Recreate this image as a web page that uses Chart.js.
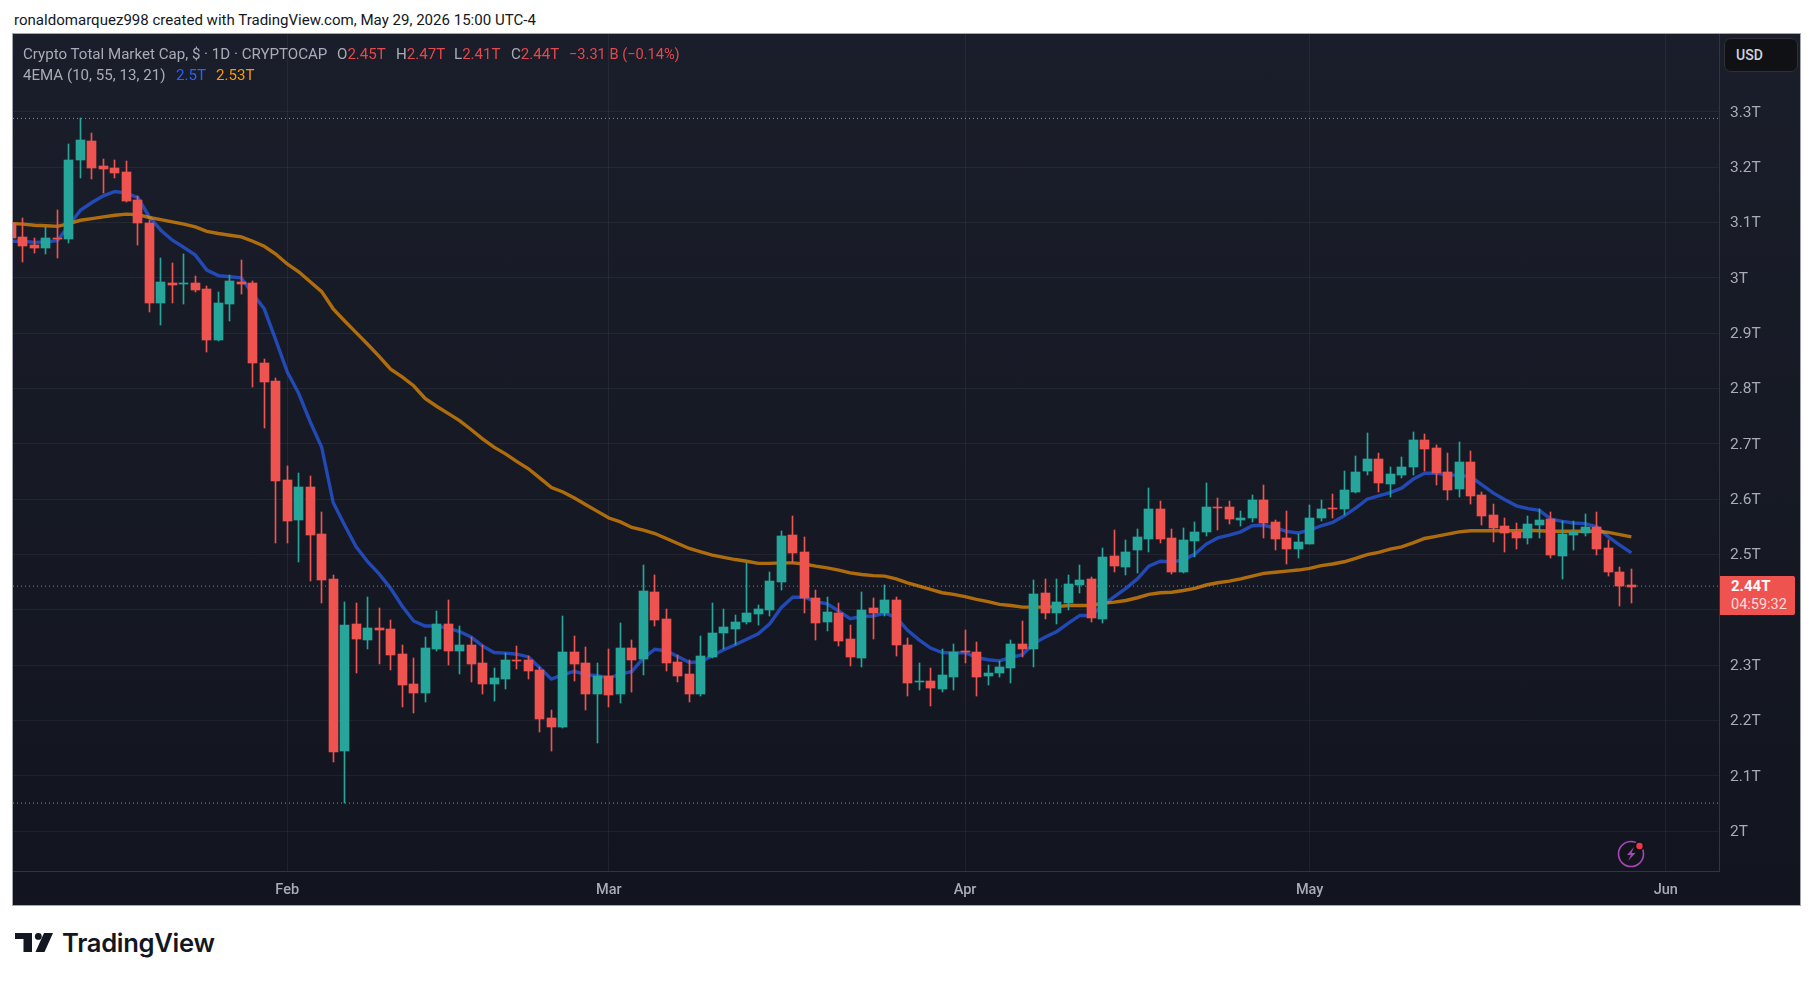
<!DOCTYPE html>
<html>
<head>
<meta charset="utf-8">
<title>Crypto Total Market Cap</title>
<script src="https://cdn.jsdelivr.net/npm/chart.js@4"></script>
<style>
  html, body { margin: 0; padding: 0; background: #fff; width: 1814px; height: 981px; overflow: hidden; }
  body { font-family: Roboto, sans-serif; position: relative; }
  #stamp { position: absolute; left: 14px; top: 11px; font-size: 15.05px; color: #131722; white-space: nowrap; }
  #panel { position: absolute; left: 13px; top: 34px; width: 1787px; height: 871px;
           background: linear-gradient(#1a1e2a, #12151f); outline: 1px solid #a4a6ab; }
  #chart { position: absolute; left: 0; top: 0; }
  .leg { position: absolute; font-size: 15.1px; color: #a9acb5; white-space: nowrap; }
  .red { color: #e5484d; }
  #usd { position: absolute; left: 1711px; top: 4px; width: 72px; height: 32px; background: #101114;
         border: 1px solid #2e3036; border-radius: 7px; color: #d1d4dc; font-size: 14px; font-weight: 500;
         line-height: 32px; text-indent: 11px; }
  #last { position: absolute; left: 1707px; top: 542px; width: 75px; height: 39px; background: #ef5350;
          border-radius: 0 2px 2px 0; color: #fff; font-size: 15px; text-indent: 11px; }
  #last b { display: block; line-height: 20px; font-weight: 700; margin-top: 0; }
  #last span { display: block; line-height: 17px; font-size: 14.5px; color: #fcdcdc; }
  #bolt { position: absolute; left: 1603px; top: 804px; }
  #logo { position: absolute; left: 15px; top: 933px; }
  #logotext { position: absolute; left: 62px; top: 927px; font: 600 25.6px Inter, sans-serif; color: #131722; letter-spacing: -0.3px; }
</style>
</head>
<body>
<div id="stamp">ronaldomarquez998 created with TradingView.com, May 29, 2026 15:00 UTC-4</div>
<div id="panel">
  <canvas id="chart" width="1787" height="871"></canvas>
  <div class="leg" style="left:10px;top:11px">Crypto Total Market Cap, $ · 1D · CRYPTOCAP</div>
  <div class="leg" style="left:324px;top:11px">O<span class="red">2.45T</span></div>
  <div class="leg" style="left:383px;top:11px">H<span class="red">2.47T</span></div>
  <div class="leg" style="left:441px;top:11px">L<span class="red">2.41T</span></div>
  <div class="leg" style="left:498px;top:11px">C<span class="red">2.44T</span></div>
  <div class="leg red" style="left:556px;top:11px;font-size:14.6px">−3.31 B (−0.14%)</div>
  <div class="leg" style="left:10px;top:32px">4EMA (10, 55, 13, 21)</div>
  <div class="leg" style="left:163px;top:32px;color:#2962ff">2.5T</div>
  <div class="leg" style="left:203px;top:32px;color:#ff9800">2.53T</div>
  <div id="usd">USD</div>
  <div id="last"><b>2.44T</b><span>04:59:32</span></div>
  <svg id="bolt" width="30" height="30" viewBox="0 0 30 30">
    <circle cx="15" cy="16" r="12.5" fill="#12141c" stroke="#a845b8" stroke-width="1.6"/>
    <path d="M18 9 L11 17 L15 17 L12 23 L19.5 15 L15.5 15 Z" fill="#a845b8"/>
    <circle cx="23.5" cy="8" r="5" fill="#0f1118"/>
    <circle cx="23.5" cy="8" r="3.2" fill="#f23645"/>
  </svg>
</div>
<svg id="logo" width="38" height="20" viewBox="0 0 38 20">
  <path d="M0 0 H17 V19 H8.5 V6 H0 Z" fill="#131722"/>
  <circle cx="23.3" cy="3.4" r="3.4" fill="#131722"/>
  <path d="M29 0 H38 L29.5 19 H20.5 Z" fill="#131722"/>
</svg>
<div id="logotext">TradingView</div>

<script>
// values in trillions, one per daily candle, first candle is Jan 8
const openT = [
  3.099,3.073,3.060,3.054,3.072,3.070,3.213,3.247,3.202,3.198,
  3.191,3.140,3.099,2.954,2.990,2.989,2.990,2.980,2.888,2.953,
  2.992,2.990,2.846,2.813,2.635,2.563,2.622,2.537,2.456,2.145,
  2.375,2.346,2.367,2.366,2.320,2.266,2.250,2.330,2.375,2.326,
  2.337,2.304,2.266,2.275,2.310,2.310,2.292,2.205,2.189,2.324,
  2.304,2.248,2.281,2.248,2.331,2.311,2.432,2.384,2.306,2.284,
  2.248,2.315,2.358,2.366,2.378,2.393,2.400,2.451,2.535,2.505,
  2.422,2.378,2.395,2.348,2.313,2.404,2.395,2.418,2.337,2.270,
  2.272,2.257,2.279,2.326,2.324,2.281,2.286,2.295,2.339,2.330,
  2.431,2.395,2.413,2.445,2.456,2.384,2.498,2.478,2.508,2.528,
  2.582,2.530,2.469,2.525,2.541,2.586,2.586,2.563,2.566,2.599,
  2.559,2.530,2.510,2.519,2.566,2.584,2.582,2.613,2.651,2.673,
  2.628,2.644,2.658,2.707,2.693,2.649,2.619,2.667,2.608,2.572,
  2.552,2.541,2.530,2.554,2.564,2.498,2.535,2.539,2.550,2.512,
  2.469,2.445
];
const closeT = [
  3.072,3.057,3.054,3.072,3.070,3.213,3.249,3.198,3.196,3.189,
  3.139,3.099,2.954,2.992,2.987,2.990,2.978,2.888,2.954,2.994,
  2.989,2.846,2.812,2.633,2.561,2.622,2.535,2.454,2.144,2.373,
  2.348,2.367,2.364,2.319,2.265,2.250,2.331,2.375,2.326,2.337,
  2.302,2.266,2.277,2.310,2.308,2.290,2.203,2.189,2.324,2.302,
  2.248,2.281,2.246,2.331,2.310,2.434,2.382,2.304,2.281,2.248,
  2.317,2.358,2.369,2.378,2.395,2.402,2.452,2.534,2.503,2.422,
  2.377,2.396,2.344,2.315,2.400,2.395,2.418,2.337,2.268,2.272,
  2.259,2.283,2.324,2.324,2.279,2.286,2.297,2.339,2.330,2.429,
  2.395,2.414,2.447,2.454,2.386,2.496,2.479,2.505,2.532,2.582,
  2.528,2.469,2.526,2.541,2.586,2.584,2.564,2.566,2.599,2.557,
  2.528,2.510,2.523,2.566,2.582,2.582,2.617,2.649,2.673,2.629,
  2.646,2.658,2.707,2.691,2.647,2.617,2.667,2.606,2.570,2.548,
  2.539,2.530,2.555,2.563,2.499,2.537,2.541,2.550,2.510,2.469,
  2.443,2.442
];
const highT = [
  3.105,3.108,3.072,3.092,3.122,3.242,3.288,3.261,3.214,3.213,
  3.211,3.148,3.104,3.036,3.027,3.043,3.003,2.985,2.974,3.005,
  3.032,2.994,2.853,2.819,2.660,2.647,2.642,2.577,2.463,2.414,
  2.413,2.423,2.404,2.382,2.337,2.313,2.351,2.398,2.418,2.371,
  2.351,2.337,2.295,2.322,2.335,2.317,2.297,2.219,2.389,2.353,
  2.333,2.304,2.330,2.377,2.346,2.481,2.463,2.402,2.319,2.310,
  2.353,2.413,2.402,2.391,2.485,2.409,2.469,2.543,2.570,2.532,
  2.436,2.423,2.413,2.373,2.432,2.422,2.445,2.423,2.349,2.304,
  2.295,2.330,2.339,2.364,2.342,2.301,2.308,2.346,2.380,2.454,
  2.456,2.456,2.463,2.481,2.460,2.512,2.544,2.526,2.546,2.620,
  2.597,2.546,2.548,2.559,2.629,2.602,2.597,2.579,2.608,2.626,
  2.563,2.579,2.537,2.590,2.599,2.610,2.651,2.678,2.720,2.684,
  2.658,2.676,2.721,2.718,2.698,2.684,2.703,2.687,2.613,2.591,
  2.566,2.557,2.570,2.582,2.577,2.561,2.561,2.573,2.577,2.526,
  2.478,2.474
];
const lowT = [
  3.065,3.028,3.045,3.043,3.036,3.063,3.180,3.178,3.153,3.180,
  3.137,3.059,2.938,2.915,2.954,2.953,2.974,2.866,2.886,2.922,
  2.971,2.803,2.729,2.521,2.521,2.487,2.452,2.413,2.125,2.051,
  2.286,2.330,2.302,2.292,2.225,2.214,2.234,2.326,2.301,2.284,
  2.270,2.248,2.236,2.257,2.293,2.275,2.180,2.145,2.187,2.272,
  2.219,2.160,2.225,2.232,2.252,2.283,2.371,2.290,2.270,2.234,
  2.245,2.313,2.330,2.337,2.375,2.373,2.389,2.436,2.485,2.395,
  2.346,2.362,2.335,2.299,2.297,2.348,2.389,2.317,2.245,2.255,
  2.227,2.252,2.255,2.304,2.245,2.265,2.279,2.268,2.315,2.297,
  2.384,2.375,2.400,2.431,2.378,2.377,2.469,2.463,2.467,2.505,
  2.521,2.465,2.467,2.496,2.534,2.544,2.555,2.552,2.559,2.530,
  2.508,2.483,2.494,2.519,2.561,2.566,2.572,2.611,2.644,2.613,
  2.604,2.638,2.644,2.651,2.626,2.599,2.604,2.591,2.554,2.523,
  2.505,2.510,2.519,2.530,2.494,2.456,2.508,2.534,2.499,2.461,
  2.407,2.413
];
const ema10 = [
  3.066,3.066,3.064,3.065,3.067,3.095,3.122,3.136,3.148,3.156,
  3.153,3.145,3.110,3.086,3.068,3.055,3.041,3.014,3.004,3.002,
  3.000,2.971,2.944,2.888,2.830,2.791,2.740,2.694,2.594,2.553,
  2.514,2.487,2.465,2.439,2.407,2.380,2.371,2.371,2.367,2.361,
  2.351,2.335,2.323,2.322,2.320,2.315,2.295,2.275,2.283,2.289,
  2.283,2.281,2.277,2.284,2.289,2.313,2.329,2.326,2.316,2.305,
  2.306,2.317,2.328,2.337,2.347,2.357,2.375,2.404,2.423,2.423,
  2.415,2.411,2.398,2.384,2.388,2.389,2.394,2.387,2.363,2.346,
  2.331,2.323,2.322,2.323,2.314,2.310,2.308,2.314,2.319,2.340,
  2.351,2.361,2.376,2.390,2.390,2.409,2.424,2.439,2.456,2.479,
  2.488,2.487,2.490,2.501,2.519,2.530,2.535,2.541,2.552,2.553,
  2.548,2.542,2.539,2.544,2.552,2.558,2.570,2.584,2.600,2.606,
  2.612,2.620,2.636,2.647,2.647,2.644,2.643,2.641,2.626,2.611,
  2.599,2.588,2.583,2.580,2.564,2.560,2.557,2.556,2.550,2.532,
  2.517,2.503
];
const ema55 = [
  3.098,3.097,3.095,3.094,3.093,3.098,3.104,3.107,3.110,3.113,
  3.115,3.114,3.109,3.105,3.101,3.097,3.092,3.084,3.080,3.077,
  3.074,3.066,3.057,3.043,3.025,3.011,2.993,2.975,2.944,2.922,
  2.901,2.880,2.858,2.835,2.821,2.805,2.782,2.768,2.755,2.742,
  2.726,2.709,2.694,2.682,2.668,2.655,2.638,2.621,2.613,2.602,
  2.590,2.578,2.566,2.559,2.549,2.544,2.538,2.529,2.520,2.511,
  2.505,2.499,2.495,2.491,2.488,2.484,2.484,2.485,2.485,2.483,
  2.479,2.476,2.472,2.467,2.464,2.462,2.461,2.456,2.449,2.443,
  2.437,2.431,2.428,2.424,2.419,2.415,2.410,2.408,2.405,2.405,
  2.405,2.406,2.408,2.408,2.408,2.412,2.414,2.417,2.422,2.428,
  2.431,2.432,2.435,2.439,2.445,2.449,2.452,2.456,2.461,2.466,
  2.468,2.470,2.472,2.475,2.480,2.483,2.487,2.493,2.500,2.504,
  2.510,2.514,2.521,2.529,2.533,2.537,2.541,2.543,2.543,2.543,
  2.543,2.543,2.544,2.543,2.542,2.542,2.542,2.542,2.542,2.540,
  2.536,2.532
];

const monthIdx = [24, 52, 83, 113, 144];
const monthLabels = ['Feb', 'Mar', 'Apr', 'May', 'Jun'];
const yTicks = [2, 2.1, 2.2, 2.3, 2.4, 2.5, 2.6, 2.7, 2.8, 2.9, 3, 3.1, 3.2, 3.3];
const hiddenTick = 2.4; // covered by the last price label
const hiLine = 3.288, loLine = 2.051, lastLine = 2.443;

// visible window
const xMin = 0.13, xMax = 148.63, yMin = 1.9283, yMax = 3.4405;

const UP = '#26a69a', DOWN = '#ef5350';
const barColors = closeT.map((c, i) => c >= openT[i] ? UP : DOWN);

const hLine = (v, color, order) => ({
    type: 'line',
    data: [{x: xMin, y: v}, {x: xMax, y: v}],
    borderColor: color,
    borderWidth: 1,
    borderDash: [1, 3],
    pointRadius: 0,
    order
});

// keep candles on whole pixels so they stay crisp
const snapBars = {
    id: 'snapBars',
    afterDatasetsUpdate(chart) {
        chart.data.datasets.forEach((ds, i) => {
            if (ds.type !== 'bar') return;
            chart.getDatasetMeta(i).data.forEach(el => {
                el.x = Math.floor(el.x) + 0.5;
                el.y = Math.round(el.y);
                el.base = Math.round(el.base);
                if (el.base === el.y) el.base = el.y + 1;
                el.height = el.base - el.y;
            });
        });
    },
    // price labels sit a touch low on their grid lines
    beforeDraw(chart) {
        chart.scales.y.getLabelItems().forEach(item => { item.options.translation[1] += 1; });
    }
};

new Chart(document.getElementById('chart').getContext('2d'), {
    type: 'bar',
    plugins: [snapBars],
    data: {
        datasets: [
            hLine(hiLine, '#8b8e96', 7),
            hLine(loLine, '#8b8e96', 7),
            hLine(lastLine, '#ef5350', 6),
            {
                type: 'line',
                data: ema10.map((v, i) => ({x: i, y: v})),
                borderColor: 'rgba(41, 98, 255, 0.66)',
                borderWidth: 3.4,
                pointRadius: 0,
                tension: 0,
                order: 5
            },
            {
                type: 'line',
                data: ema55.map((v, i) => ({x: i, y: v})),
                borderColor: 'rgba(255, 152, 0, 0.66)',
                borderWidth: 3.4,
                pointRadius: 0,
                tension: 0,
                order: 4
            },
            {
                type: 'bar',
                data: lowT.map((v, i) => ({x: i, y: [v, highT[i]]})),
                backgroundColor: barColors,
                barThickness: 1,
                grouped: false,
                order: 3
            },
            {
                type: 'bar',
                data: openT.map((v, i) => ({x: i, y: [v, closeT[i]]})),
                backgroundColor: barColors,
                barThickness: 9,
                grouped: false,
                order: 2
            }
        ]
    },
    options: {
        responsive: false,
        animation: false,
        layout: { padding: 0 },
        plugins: { legend: { display: false }, tooltip: { enabled: false } },
        scales: {
            x: {
                type: 'linear',
                min: xMin,
                max: xMax,
                offset: false,
                grid: { color: 'rgba(255, 255, 255, 0.055)', drawTicks: false, offset: false },
                border: { color: '#32353f' },
                afterBuildTicks: s => { s.ticks = monthIdx.map(v => ({value: v})); },
                afterFit: s => { s.height = 34; s.paddingLeft = 0; s.paddingRight = 0; },
                ticks: {
                    autoSkip: false,
                    maxRotation: 0,
                    padding: 11,
                    color: '#a9acb5',
                    font: { family: 'Roboto', size: 14.5, weight: '500' },
                    callback: v => monthLabels[monthIdx.indexOf(v)]
                }
            },
            y: {
                position: 'right',
                min: yMin,
                max: yMax,
                grid: { color: 'rgba(255, 255, 255, 0.055)', drawTicks: false },
                border: { color: '#32353f' },
                afterBuildTicks: s => { s.ticks = yTicks.map(v => ({value: v})); },
                afterFit: s => { s.width = 81; s.paddingTop = 0; s.paddingBottom = 0; },
                ticks: {
                    autoSkip: false,
                    padding: 11,
                    color: '#a9acb5',
                    font: { family: 'Roboto', size: 15.5 },
                    callback: v => v === hiddenTick ? '' : v + 'T'
                }
            }
        }
    }
});
</script>
</body>
</html>
